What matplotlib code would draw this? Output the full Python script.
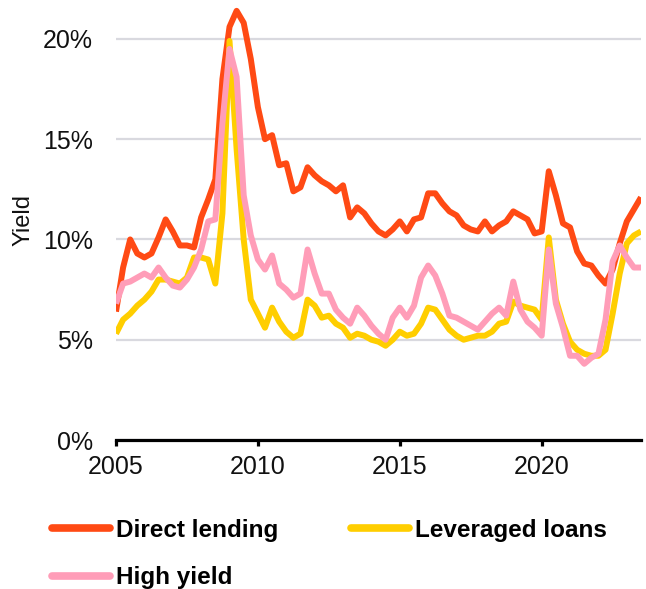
import matplotlib
matplotlib.use("Agg")
import matplotlib.pyplot as plt
import numpy as np

plt.rcParams["font.family"] = ["Liberation Sans", "DejaVu Sans"]

# Quarterly yields (%), 2005 Q1 onwards
START_YEAR = 2005
direct_lending = [
    6.4, 8.6, 10.0, 9.3, 9.1, 9.3, 10.1, 11.0, 10.4, 9.7, 9.7, 9.6, 11.1, 12.0, 13.0,
    18.0, 20.6, 21.4, 20.8, 19.0, 16.6, 15.0, 15.2, 13.7, 13.8,
    12.4, 12.6, 13.6, 13.2, 12.9, 12.7, 12.4, 12.7, 11.1, 11.6,
    11.3, 10.8, 10.4, 10.2, 10.5, 10.9, 10.4, 11.0, 11.1, 12.3,
    12.3, 11.8, 11.4, 11.2, 10.7, 10.5, 10.4, 10.9, 10.4, 10.7,
    10.9, 11.4, 11.2, 11.0, 10.3, 10.4, 13.4, 12.2, 10.8, 10.6,
    9.4, 8.8, 8.7, 8.2, 7.8, 8.5, 9.8, 10.9, 11.5, 12.1,
]
leveraged_loans = [
    5.3, 6.0, 6.3, 6.7, 7.0, 7.4, 8.0, 8.0, 7.9, 7.8, 8.1, 9.1, 9.1, 9.0, 7.8,
    11.3, 19.9, 14.5, 10.0, 7.0, 6.3, 5.6, 6.6, 5.9, 5.4,
    5.1, 5.3, 7.0, 6.7, 6.1, 6.2, 5.8, 5.6, 5.1, 5.3,
    5.2, 5.0, 4.9, 4.7, 5.0, 5.4, 5.2, 5.3, 5.8, 6.6,
    6.5, 6.0, 5.5, 5.2, 5.0, 5.1, 5.2, 5.2, 5.4, 5.8,
    5.9, 6.9, 6.7, 6.6, 6.5, 6.0, 10.1, 7.0, 5.8, 4.9,
    4.5, 4.3, 4.2, 4.2, 4.5, 6.3, 8.3, 9.8, 10.2, 10.4,
]
high_yield = [
    6.8, 7.8, 7.9, 8.1, 8.3, 8.1, 8.6, 8.1, 7.7, 7.6, 8.0, 8.6, 9.5, 10.9, 11.0,
    15.8, 19.5, 18.1, 12.2, 10.2, 9.0, 8.5, 9.2, 7.8, 7.5,
    7.1, 7.3, 9.5, 8.3, 7.3, 7.3, 6.5, 6.1, 5.8, 6.6,
    6.2, 5.7, 5.3, 5.0, 6.1, 6.6, 6.1, 6.7, 8.1, 8.7,
    8.2, 7.3, 6.2, 6.1, 5.9, 5.7, 5.5, 5.9, 6.3, 6.6,
    6.2, 7.9, 6.5, 5.9, 5.6, 5.2, 9.5, 6.8, 5.6, 4.2,
    4.2, 3.8, 4.1, 4.3, 6.0, 8.9, 9.7, 9.1, 8.6, 8.6,
]

x_ticks = [2005, 2010, 2015, 2020]
y_ticks = [0, 5, 10, 15, 20]
y_ticklabels = ["0%", "5%", "10%", "15%", "20%"]

RED = "#FF4A14"
YELLOW = "#FFCE00"
PINK = "#FF9DB8"
GRID = "#D9D9DF"

quarters = START_YEAR + np.arange(len(direct_lending)) / 4.0

fig = plt.figure(figsize=(6.46, 5.89), dpi=100)
ax = fig.add_axes([116 / 646, 149 / 589, 525 / 646, 440 / 589])

line_kw = dict(lw=4.3, solid_joinstyle="round", solid_capstyle="butt")
h_dl, = ax.plot(quarters, direct_lending, color=RED, label="Direct lending", zorder=3, **line_kw)
h_ll, = ax.plot(quarters, leveraged_loans, color=YELLOW, label="Leveraged loans", zorder=4, **line_kw)
h_hy, = ax.plot(quarters, high_yield, color=PINK, label="High yield", zorder=5, **line_kw)

ax.set_xlim(START_YEAR, quarters[-1])
ax.set_ylim(0, 21.94)
ax.set_xticks(x_ticks)
ax.set_yticks(y_ticks)
ax.set_yticklabels(y_ticklabels)

for side in ["top", "right", "left"]:
    ax.spines[side].set_visible(False)
ax.spines["bottom"].set_linewidth(2.3)
ax.spines["bottom"].set_color("black")
ax.spines["bottom"].set_zorder(6)

ax.yaxis.grid(True, color=GRID, lw=1.6)
ax.set_axisbelow(True)
ax.tick_params(axis="y", length=0, pad=16.5, labelsize=18, labelcolor="#111111")
ax.tick_params(axis="x", length=4.5, width=2.3, pad=6, labelsize=18, labelcolor="#111111")

fig.text(24 / 646, 1 - 220 / 589, "Yield", rotation=90, ha="center", va="center",
         fontsize=17, color="#111111")

leg = fig.legend(
    handles=[h_dl, h_hy, h_ll],
    loc="upper left",
    bbox_to_anchor=(52 / 646, 1 - 519 / 589),
    ncol=2,
    frameon=False,
    borderpad=0,
    borderaxespad=0,
    handlelength=2.4,
    handletextpad=0.22,
    columnspacing=3.0,
    labelspacing=1.0,
    prop={"weight": "bold", "size": 17.5},
)
for h in leg.legend_handles:
    h.set_linewidth(5.5)
    h.set_solid_capstyle("round")

fig.savefig("out.png", dpi=100)
